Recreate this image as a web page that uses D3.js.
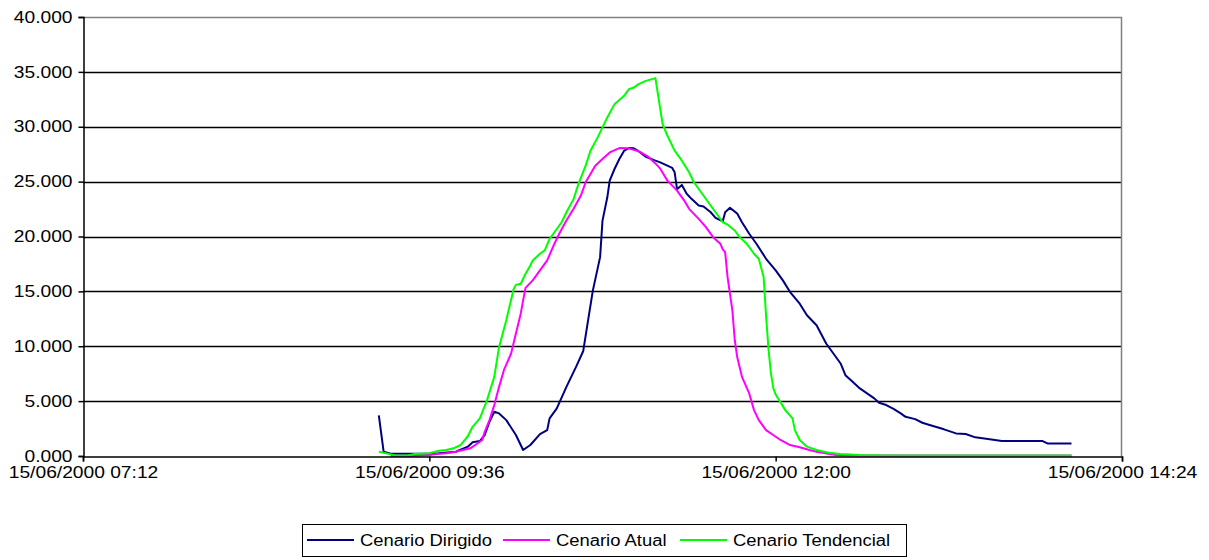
<!DOCTYPE html>
<html><head><meta charset="utf-8">
<script src="https://cdn.jsdelivr.net/npm/d3@7"></script>
<style>
body{margin:0;background:#fff}
svg text{font-family:"Liberation Sans",Arial,sans-serif;fill:#000}
</style>
</head><body>
<svg id="chart" width="1209" height="560"></svg>
<script>
const dateStr = "15/06/2000";
const xTickTimes = ["07:12", "09:36", "12:00", "14:24"];
const yTicks = [0, 5, 10, 15, 20, 25, 30, 35, 40];
const seriesNames = ["Cenario Dirigido", "Cenario Atual", "Cenario Tendencial"];
const seriesColors = ["#000080", "#FF00FF", "#00FF00"];

const dirigidoTimes = ["09:15","09:17","09:20","09:36","09:40","09:47","09:52","09:54","09:57","09:59","10:01","10:03","10:05","10:08","10:12","10:15","10:18","10:22","10:25","10:26","10:29","10:33","10:37","10:40","10:42","10:44","10:47","10:48","10:50","10:51","10:53","10:55","10:57","10:59","11:01","11:03","11:06","11:10","11:12","11:17","11:18","11:19","11:21","11:23","11:25","11:28","11:30","11:33","11:35","11:38","11:39","11:41","11:44","11:46","11:49","11:52","11:56","12:00","12:03","12:06","12:10","12:13","12:17","12:21","12:24","12:27","12:29","12:32","12:35","12:38","12:41","12:43","12:46","12:49","12:52","12:54","12:58","13:01","13:04","13:10","13:15","13:19","13:23","13:29","13:34","13:51","13:53","14:03"];
const dirigidoValues = [3.70,0.40,0.20,0.20,0.25,0.39,0.85,1.25,1.36,1.91,3.12,4.03,3.88,3.27,1.91,0.55,1.00,2.00,2.36,3.43,4.34,6.30,8.12,9.57,12.36,15.09,18.12,21.45,23.57,25.09,26.15,27.06,27.82,28.06,28.03,27.77,27.27,26.91,26.75,26.25,25.85,24.30,24.70,23.90,23.43,22.82,22.73,22.21,21.70,21.39,22.21,22.61,22.09,21.30,20.25,19.34,17.97,16.91,16.00,14.94,13.88,12.82,11.91,10.25,9.34,8.43,7.36,6.76,6.16,5.70,5.25,4.85,4.64,4.29,3.88,3.57,3.36,3.03,2.82,2.43,2.06,2.00,1.70,1.52,1.36,1.36,1.15,1.15];

const atualTimes = ["09:20","09:28","09:36","09:39","09:43","09:47","09:50","09:53","09:56","09:58","09:59","10:01","10:03","10:05","10:07","10:10","10:12","10:14","10:15","10:16","10:19","10:22","10:25","10:28","10:30","10:33","10:36","10:39","10:41","10:45","10:48","10:51","10:55","10:59","11:03","11:07","11:10","11:12","11:15","11:19","11:22","11:24","11:28","11:31","11:34","11:37","11:38","11:39","11:40","11:42","11:43","11:44","11:46","11:49","11:51","11:53","11:56","11:59","12:02","12:06","12:10","12:14","12:17","12:25","12:35","14:03"];
const atualValues = [0.00,0.00,0.09,0.18,0.25,0.39,0.55,0.70,1.14,1.46,2.18,3.27,4.64,6.30,7.82,9.34,11.16,12.97,14.18,15.32,16.00,16.91,17.82,19.34,20.25,21.45,22.52,23.73,24.94,26.45,27.06,27.66,28.06,28.03,27.77,27.27,26.66,26.18,25.09,24.18,23.27,22.52,21.61,20.85,19.94,19.34,18.82,18.57,16.30,13.27,10.55,9.03,7.21,5.70,4.18,3.27,2.36,1.91,1.46,1.00,0.79,0.55,0.39,0.10,0.05,0.05];

const tendencialTimes = ["09:15","09:17","09:20","09:22","09:27","09:30","09:36","09:40","09:43","09:46","09:49","09:52","09:54","09:57","10:00","10:03","10:05","10:08","10:11","10:12","10:14","10:16","10:18","10:19","10:22","10:24","10:26","10:28","10:31","10:33","10:36","10:38","10:41","10:43","10:46","10:48","10:50","10:53","10:57","10:59","11:01","11:03","11:06","11:10","11:13","11:15","11:18","11:21","11:24","11:26","11:29","11:32","11:35","11:38","11:40","11:43","11:45","11:48","11:51","11:53","11:55","11:56","11:57","11:58","11:59","12:00","12:02","12:04","12:07","12:08","12:10","12:13","12:17","12:22","12:27","12:35","12:45","14:03"];
const tendencialValues = [0.40,0.30,0.15,0.05,0.05,0.18,0.25,0.48,0.55,0.70,1.00,1.80,2.66,3.43,5.09,7.21,9.94,12.36,15.18,15.59,15.70,16.61,17.36,17.82,18.43,18.73,19.79,20.39,21.30,22.21,23.43,24.79,26.45,27.82,29.03,29.94,30.85,32.06,32.82,33.43,33.57,33.88,34.18,34.43,30.25,29.18,27.82,26.91,25.85,24.94,24.03,23.12,22.21,21.30,21.09,20.55,19.94,19.34,18.43,17.97,16.30,12.80,9.80,7.60,6.20,5.60,4.90,4.18,3.43,2.36,1.46,0.85,0.55,0.30,0.18,0.09,0.05,0.05];

const parse = d3.timeParse("%d/%m/%Y %H:%M");
const toSeries = (times, values) => times.map((t, i) => ({t: parse(dateStr + " " + t), v: values[i]}));
const series = [
  toSeries(dirigidoTimes, dirigidoValues),
  toSeries(atualTimes, atualValues),
  toSeries(tendencialTimes, tendencialValues)
];

const L = 83, R = 1122, T = 17, B = 456;
const svg = d3.select("#chart");
const x = d3.scaleTime()
  .domain([parse(dateStr + " " + xTickTimes[0]), parse(dateStr + " " + xTickTimes[xTickTimes.length - 1])])
  .range([L, R]);
const y = d3.scaleLinear().domain([0, 40]).range([B, T]);

function stretch(sel, k) {
  sel.each(function () {
    const l = this.getComputedTextLength();
    this.setAttribute("textLength", l * k);
    this.setAttribute("lengthAdjust", "spacingAndGlyphs");
  });
}

// gridlines
svg.append("g").selectAll("line")
  .data(yTicks.filter(d => d > 0 && d < 40))
  .join("line")
  .attr("x1", L).attr("x2", R)
  .attr("y1", d => Math.round(y(d)) + 0.5).attr("y2", d => Math.round(y(d)) + 0.5)
  .attr("stroke", "#000").attr("stroke-width", 1.6);

// plot border (top & right, gray)
svg.append("path")
  .attr("d", `M${L},${T + 0.5}H${R - 0.5}V${B}`)
  .attr("fill", "none").attr("stroke", "#808080").attr("stroke-width", 1.5);

// series
const line = d3.line().x(d => x(d.t)).y(d => y(d.v));
svg.append("g").selectAll("path")
  .data(series)
  .join("path")
  .attr("d", line)
  .attr("fill", "none")
  .attr("stroke", (d, i) => seriesColors[i])
  .attr("stroke-width", 2)
  .attr("stroke-linejoin", "round");

// y axis
const yAxis = svg.append("g")
  .attr("transform", `translate(${L + 0.5},0)`)
  .call(d3.axisLeft(y).tickValues(yTicks).tickFormat(d3.format(".3f")).tickSize(5).tickPadding(6));
yAxis.select(".domain").attr("stroke", "#000").attr("stroke-width", 1.5);
yAxis.selectAll(".tick line").attr("stroke", "#000").attr("stroke-width", 1.5);
yAxis.selectAll("text").attr("font-size", 16).attr("font-family", null);
stretch(yAxis.selectAll("text"), 1.2);

// x axis
const fmt = d3.timeFormat("%d/%m/%Y %H:%M");
const xAxis = svg.append("g")
  .attr("transform", `translate(0,${B + 0.5})`)
  .call(d3.axisBottom(x)
    .tickValues(xTickTimes.map(t => parse(dateStr + " " + t)))
    .tickFormat(fmt).tickSize(5).tickPadding(5));
xAxis.select(".domain").attr("stroke", "#000").attr("stroke-width", 1.5);
xAxis.selectAll(".tick line").attr("stroke", "#000").attr("stroke-width", 1.5);
xAxis.selectAll("text").attr("font-size", 16).attr("font-family", null);
stretch(xAxis.selectAll("text"), 1.2);

// legend
const lg = svg.append("g");
lg.append("rect").attr("x", 302.5).attr("y", 524.5).attr("width", 604).attr("height", 32)
  .attr("fill", "#fff").attr("stroke", "#000").attr("stroke-width", 1);
const legendX = [307, 503, 680];
seriesNames.forEach((name, i) => {
  lg.append("line").attr("x1", legendX[i]).attr("x2", legendX[i] + 47)
    .attr("y1", 540).attr("y2", 540)
    .attr("stroke", seriesColors[i]).attr("stroke-width", 2);
  const t = lg.append("text").attr("x", legendX[i] + 53).attr("y", 546)
    .attr("font-size", 16).text(name);
  stretch(t, 1.15);
});
</script>
</body></html>
